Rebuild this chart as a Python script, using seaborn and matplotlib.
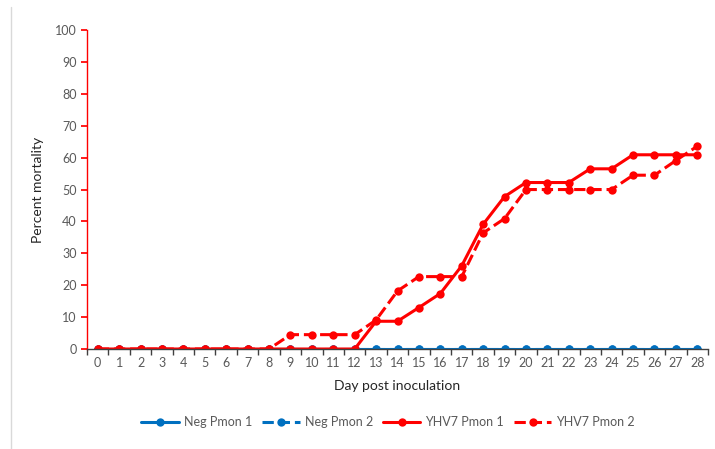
import numpy as np
import pandas as pd
import matplotlib.pyplot as plt
from matplotlib.lines import Line2D
import seaborn as sns

# ---------------------------------------------------------------------------
# Data
# ---------------------------------------------------------------------------

days = list(range(29))
neg_pmon1 = [0] * 29
neg_pmon2 = [0] * 29
yhv7_pmon1 = [0, 0, 0, 0, 0, 0, 0, 0, 0, 0, 0, 0, 0,
              8.7, 8.7, 13.0, 17.4, 26.1, 39.1, 47.8, 52.2, 52.2, 52.2,
              56.5, 56.5, 60.9, 60.9, 60.9, 60.9]
yhv7_pmon2 = [0, 0, 0, 0, 0, 0, 0, 0, 0, 4.5, 4.5, 4.5, 4.5,
              9.1, 18.2, 22.7, 22.7, 22.7, 36.4, 40.9, 50.0, 50.0, 50.0,
              50.0, 50.0, 54.5, 54.5, 59.1, 63.6]

series = [
    ("Neg Pmon 1", neg_pmon1, "#0070C0", "-"),
    ("Neg Pmon 2", neg_pmon2, "#0070C0", "--"),
    ("YHV7 Pmon 1", yhv7_pmon1, "#FF0000", "-"),
    ("YHV7 Pmon 2", yhv7_pmon2, "#FF0000", "--"),
]

# ---------------------------------------------------------------------------
# Style
# ---------------------------------------------------------------------------

sns.set_theme(style="white")
plt.rcParams["font.family"] = ["Lato", "DejaVu Sans"]
grey = "#595959"

fig = plt.figure(figsize=(7.15, 4.49), dpi=100)
ax = fig.add_axes([0.1217, 0.2227, 0.8685, 0.7103])

for name, vals, color, ls in series:
    df = pd.DataFrame({"day": days, "value": vals})
    sns.lineplot(data=df, x="day", y="value", ax=ax, color=color,
                 linestyle=ls, linewidth=2.2, marker="o", markersize=6,
                 markeredgewidth=0, label=name, legend=False)

ax.set_xlim(-0.5, 28.5)
ax.set_ylim(0, 100)
ax.set_yticks(np.arange(0, 101, 10))
ax.set_xticks(days)
ax.set_xticks(np.arange(-0.5, 28.6, 1), minor=True)
ax.tick_params(axis="x", which="major", length=0, labelsize=9,
               labelcolor=grey, pad=6)
ax.tick_params(axis="x", which="minor", length=4, color="#404040",
               direction="out", bottom=True)
ax.tick_params(axis="y", length=4, color="#FF0000", labelsize=9,
               labelcolor=grey, direction="out", left=True)

for side in ["top", "right"]:
    ax.spines[side].set_visible(False)
ax.spines["left"].set_color("#FF0000")
ax.spines["left"].set_linewidth(1)
ax.spines["bottom"].set_color("#404040")
ax.spines["bottom"].set_linewidth(1)

ax.set_xlabel("Day post inoculation", fontsize=10, color="#262626",
              labelpad=8)
ax.set_ylabel("Percent mortality", fontsize=10, color="#262626",
              labelpad=8)

handles = [Line2D([0], [0], color=c, linestyle=ls, linewidth=2.2,
                  marker="o", markersize=6, markeredgewidth=0)
           for _, _, c, ls in series]
fig.legend(handles, [s[0] for s in series], loc="center",
           bbox_to_anchor=(0.543, 0.06), ncol=4, frameon=False,
           fontsize=9, labelcolor=grey, handlelength=3.0,
           columnspacing=0.8, handletextpad=0.4)

# light frame edge on the left
fig.add_artist(Line2D([11 / 715, 11 / 715], [0, 1 - 7 / 449],
                      transform=fig.transFigure, color="#D9D9D9",
                      linewidth=1))

fig.savefig("out.png", dpi=100)
